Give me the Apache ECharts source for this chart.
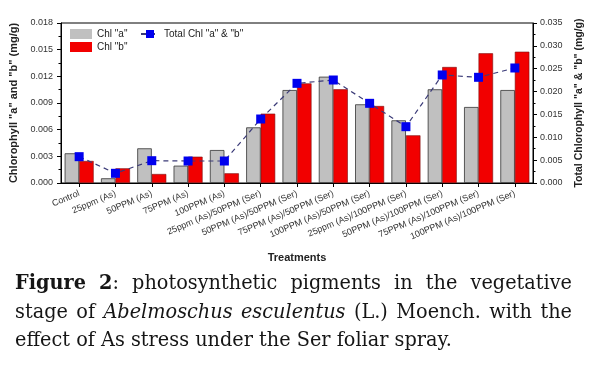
<!DOCTYPE html>
<html>
<head>
<meta charset="utf-8">
<script src="https://cdn.jsdelivr.net/npm/echarts@6/dist/echarts.min.js"></script>
<style>
html,body{margin:0;padding:0;background:#fff;}
#chart{width:606px;height:366px;}
</style>
</head>
<body>
<div id="chart"></div>
<script>
const categories = ['Control','25ppm (As)','50PPM (As)','75PPM (As)','100PPM (As)','25ppm (As)/50PPM (Ser)','50PPM (As)/50PPM (Ser)','75PPM (As)/50PPM (Ser)','100PPM (As)/50PPM (Ser)','25ppm (As)/100PPM (Ser)','50PPM (As)/100PPM (Ser)','75PPM (As)/100PPM (Ser)','100PPM (As)/100PPM (Ser)'];
const chlA = [0.00334,0.00053,0.00390,0.00195,0.00371,0.00626,0.01046,0.01196,0.00885,0.00705,0.01054,0.00855,0.01046];
const chlB = [0.00248,0.00165,0.00101,0.00296,0.00109,0.00780,0.01121,0.01054,0.00866,0.00536,0.01305,0.01459,0.01477];
const totalChl = [0.00576,0.00212,0.00488,0.00481,0.00481,0.01400,0.02180,0.02253,0.01743,0.01232,0.02363,0.02312,0.02516];
const leftTicks = {min:0, max:0.018, interval:0.003};
const rightTicks = {min:0, max:0.035, interval:0.005};
const captionLines = [
  [[['Figure','b']],[['2','b'],[':','n']],[['photosynthetic','n']],[['pigments','n']],[['in','n']],[['the','n']],[['vegetative','n']]],
  [[['stage','n']],[['of','n']],[['Abelmoschus','i']],[['esculentus','i']],[['(L.)','n']],[['Moench.','n']],[['with','n']],[['the','n']]],
  [[['effect','n']],[['of','n']],[['As','n']],[['stress','n']],[['under','n']],[['the','n']],[['Ser','n']],[['foliar','n']],[['spray.','n']]]
];

const chart = echarts.init(document.getElementById('chart'), null, {renderer:'canvas'});

// caption layout (justified like the reference)
const FS = 19.5, FAM = '"DejaVu Serif", serif';
const fontOf = s => (s==='b' ? 'bold ' : s==='i' ? 'italic ' : '') + FS + 'px ' + FAM;
const ctx = document.createElement('canvas').getContext('2d');
const mw = (t,s) => { ctx.font = fontOf(s); return ctx.measureText(t).width; };
const spaceW = mw(' ','n');
const wordW = w => w.reduce((a,r)=>a+mw(r[0],r[1]),0);
const lineNat = l => l.reduce((a,w)=>a+wordW(w),0) + spaceW*(l.length-1);
const X0 = 15, X1 = 572, L3END = 452;
const sx = (L3END - X0) / lineNat(captionLines[2]);
const baselinesMid = [284, 312.5, 341];
const captionGraphics = [];
captionLines.forEach((line, li) => {
  const words = line.map(wordW);
  const sumW = words.reduce((a,b)=>a+b,0);
  let gap = spaceW;
  if (li < 2) gap = ((X1 - X0)/sx - sumW) / (line.length-1);
  let x = 0;
  line.forEach((w, wi) => {
    let rx = x;
    w.forEach(r => {
      captionGraphics.push({type:'text', x: X0 + rx*sx, y: baselinesMid[li], scaleX: sx,
        style:{text:r[0], font:fontOf(r[1]), fill:'#151515', verticalAlign:'middle', align:'left'}});
      rx += mw(r[0], r[1]);
    });
    x += words[wi] + gap;
  });
});

const axisTxt = '#333';
const legendText = {fontSize:10, color:'#222', fontFamily:'Liberation Sans'};
const option = {
  backgroundColor:'#fff',
  animation:false,
  grid:{left:61, right:73, top:23, bottom:183, show:true, borderColor:'#000', borderWidth:1, containLabel:false},
  legend:[
    {left:70, top:29, data:[{name:'Chl "a"', icon:'rect', itemStyle:{borderWidth:0}}], itemWidth:22, itemHeight:10, itemGap:4, textStyle:legendText, padding:0},
    {left:70, top:42, data:[{name:'Chl "b"', icon:'rect', itemStyle:{borderWidth:0}}], itemWidth:22, itemHeight:10, itemGap:4, textStyle:legendText, padding:0},
    {left:140, top:29, data:['Total Chl "a" & "b"'], itemWidth:18, itemHeight:10, itemGap:4, textStyle:legendText, padding:0}
  ],
  xAxis:{
    type:'category', data:categories, boundaryGap:true,
    name:'Treatments', nameLocation:'middle', nameGap:69,
    nameTextStyle:{fontSize:11, fontWeight:'bold', color:'#222', fontFamily:'Liberation Sans'},
    axisLine:{show:true, lineStyle:{color:'#000', width:1}},
    axisTick:{show:true, alignWithLabel:true, length:4, lineStyle:{color:'#000'}},
    axisLabel:{rotate:23, fontSize:9, color:axisTxt, margin:10, interval:0, fontFamily:'Liberation Sans'},
    splitLine:{show:false}
  },
  yAxis:[
    {type:'value', position:'left', min:leftTicks.min, max:leftTicks.max, interval:leftTicks.interval,
     name:'Chlorophyll "a" and "b" (mg/g)', nameLocation:'middle', nameGap:29, nameRotate:90,
     nameTextStyle:{fontSize:11, fontWeight:'bold', color:'#222', fontFamily:'Liberation Sans'},
     axisLine:{show:true, lineStyle:{color:'#000'}},
     axisTick:{show:true, length:4, lineStyle:{color:'#000'}},
     minorTick:{show:true, splitNumber:2, length:2.5, lineStyle:{color:'#000'}},
     axisLabel:{fontSize:9, color:axisTxt, margin:8, formatter:v=>v.toFixed(3), fontFamily:'Liberation Sans'},
     splitLine:{show:false}},
    {type:'value', position:'right', min:rightTicks.min, max:rightTicks.max, interval:rightTicks.interval,
     name:'Total Chlorophyll "a" & "b" (mg/g)', nameLocation:'middle', nameGap:33, nameRotate:90,
     nameTextStyle:{fontSize:10.5, fontWeight:'bold', color:'#222', fontFamily:'Liberation Sans'},
     axisLine:{show:true, lineStyle:{color:'#000'}},
     axisTick:{show:true, length:4, lineStyle:{color:'#000'}},
     minorTick:{show:true, splitNumber:2, length:2.5, lineStyle:{color:'#000'}},
     axisLabel:{fontSize:9, color:axisTxt, margin:7, formatter:v=>v.toFixed(3), fontFamily:'Liberation Sans'},
     splitLine:{show:false}}
  ],
  series:[
    {name:'Chl "a"', type:'bar', data:chlA, barWidth:14.5, barGap:'0%',
     itemStyle:{color:'#c0c0c0', borderColor:'#333', borderWidth:0.8}},
    {name:'Chl "b"', type:'bar', data:chlB, barWidth:14.5, barGap:'0%',
     itemStyle:{color:'#f20000', borderColor:'#7a1010', borderWidth:0.6}},
    {name:'Total Chl "a" & "b"', type:'line', yAxisIndex:1, data:totalChl, z:5,
     symbol:'rect', symbolSize:9,
     itemStyle:{color:'#0000ee'},
     lineStyle:{color:'#3b3b78', width:1.2, type:[5,4]}}
  ],
  graphic: captionGraphics
};
chart.setOption(option);
</script>
</body>
</html>
